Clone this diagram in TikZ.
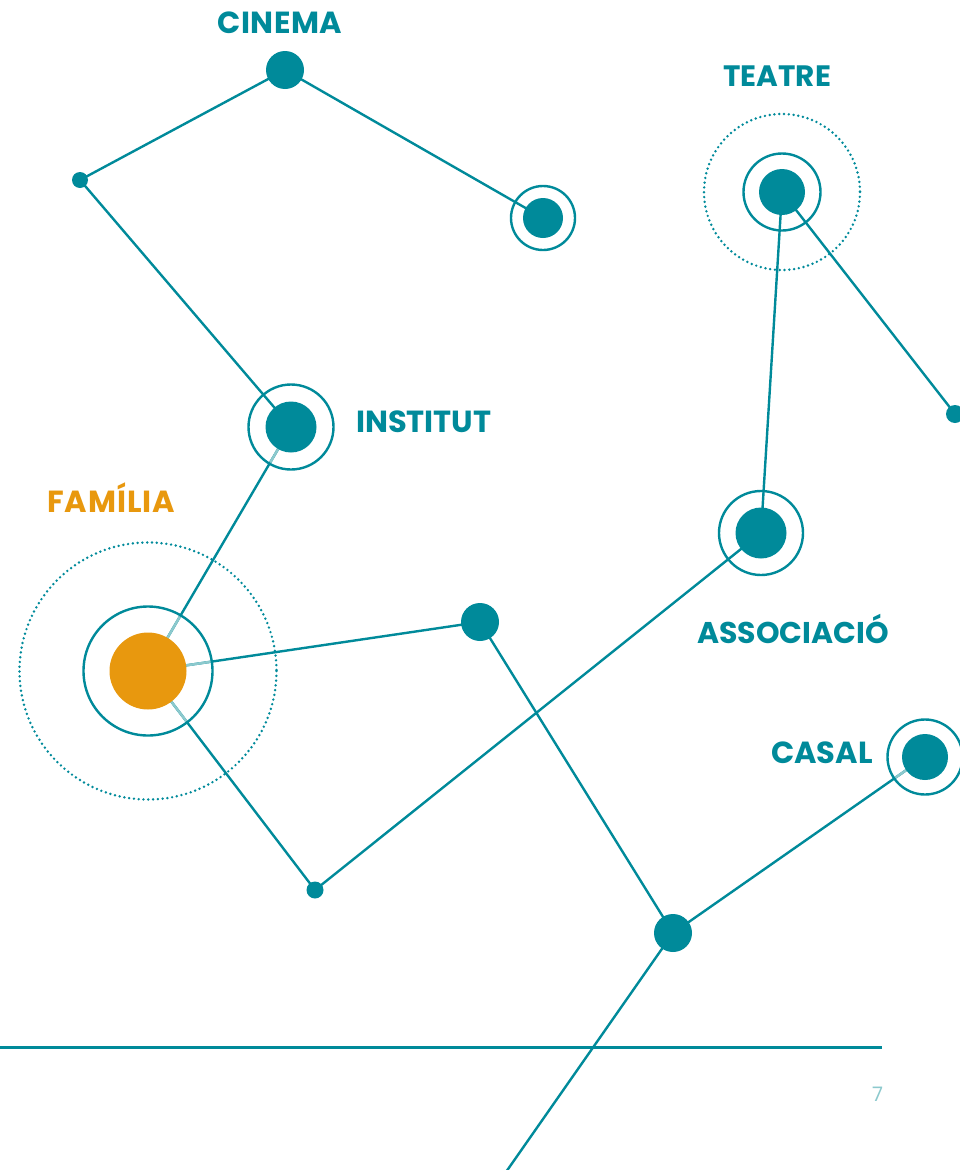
\documentclass[tikz,border=0pt]{standalone}
\usepackage{fontspec}
\setmainfont{Poppins}
\definecolor{teal}{HTML}{008A9A}
\definecolor{lteal}{HTML}{8CC9CD}
\definecolor{orng}{HTML}{E8980E}
\begin{document}
\begin{tikzpicture}[x=1pt,y=-1pt,
  conn/.style={draw=teal,line width=2.4pt},
  lconn/.style={draw=lteal,line width=2.4pt},
  ring/.style={draw=teal,line width=2.4pt},
  dotring/.style={draw=teal,line width=2.7pt,line cap=round,dash pattern=on 0pt off 4.8pt},
  dotnode/.style={circle,fill=teal,inner sep=0pt,minimum size=#1},
  lab/.style={font=\fontsize{30.5}{30.5}\selectfont\bfseries,text=teal,inner sep=0pt,anchor=base west}]
\useasboundingbox (0,0) rectangle (960,1170);
% nodes (positions)
\coordinate (cin) at (285,70);
\coordinate (s1) at (80,180);
\coordinate (cint) at (543,218);
\coordinate (inst) at (291,427);
\coordinate (fam) at (148,671);
\coordinate (d1) at (480,622);
\coordinate (s2) at (315,890);
\coordinate (assoc) at (761,533);
\coordinate (teat) at (782,192);
\coordinate (s3) at (955,414);
\coordinate (bot) at (673,933);
\coordinate (casal) at (925,757);
\coordinate (off) at (506,1172);
% rings
\draw[dotring] (fam) circle (128.5);
\draw[dotring] (teat) circle (78);
% bottom rule
\coordinate (rl) at (0,1047.5);
\coordinate (rr) at (882,1047.5);
\draw[draw=teal,line width=2.8pt] (rl) -- (rr);
% connectors
\draw[conn] (s1) -- (cin) -- (cint);
\draw[conn] (s1) -- (inst) -- (fam);
\draw[conn] (fam) -- (d1) -- (bot) -- (casal);
\draw[conn] (fam) -- (s2) -- (assoc) -- (teat) -- (s3);
\draw[conn] (bot) -- (off);
% light segments inside rings
\begin{scope}
\clip (fam) circle (64);
\draw[lconn] (fam) -- (inst);
\draw[lconn] (fam) -- (d1);
\draw[lconn] (fam) -- (s2);
\end{scope}
\begin{scope}
\clip (inst) circle (42);
\draw[lconn] (inst) -- (fam);
\end{scope}
\begin{scope}
\clip (casal) circle (37);
\draw[lconn] (casal) -- (bot);
\end{scope}
% rings
\draw[ring] (cint) circle (32);
\draw[ring] (inst) circle (42.5);
\draw[ring] (fam) circle (64.5);
\draw[ring] (assoc) circle (42);
\draw[ring] (teat) circle (38.5);
\draw[ring] (casal) circle (37.5);
% dots
\node[dotnode=38pt] (ncin) at (cin) {};
\node[dotnode=16pt] (ns1) at (s1) {};
\node[dotnode=40pt] (ncint) at (cint) {};
\node[dotnode=51pt] (ninst) at (inst) {};
\node[circle,fill=orng,inner sep=0pt,minimum size=77pt] (nfam) at (fam) {};
\node[dotnode=38pt] (nd1) at (d1) {};
\node[dotnode=17pt] (ns2) at (s2) {};
\node[dotnode=51pt] (nassoc) at (assoc) {};
\node[dotnode=46pt] (nteat) at (teat) {};
\node[dotnode=18pt] (ns3) at (s3) {};
\node[dotnode=38pt] (nbot) at (bot) {};
\node[dotnode=46pt] (ncasal) at (casal) {};
% labels
\node[lab,font=\fontsize{30.5}{30.5}\selectfont\bfseries\addfontfeatures{LetterSpace=2}] (lcin) at (217,33) {CINEMA};
\node[lab,font=\fontsize{29.5}{29.5}\selectfont\bfseries] (lteat) at (723,86) {TEATRE};
\node[lab] (linst) at (356,432) {INSTITUT};
\node[lab,text=orng,font=\fontsize{30.5}{30.5}\selectfont\bfseries\addfontfeatures{LetterSpace=3}] (lfam) at (47,512) {FAMÍLIA};
\node[lab,font=\fontsize{30}{30}\selectfont\bfseries] (lassoc) at (697,643) {ASSOCIACIÓ};
\node[lab] (lcasal) at (771,763) {CASAL};
\node[font=\fontsize{20}{20}\selectfont,text=lteal,inner sep=0pt,anchor=base west] (pg) at (872,1101) {7};
\end{tikzpicture}
\end{document}
